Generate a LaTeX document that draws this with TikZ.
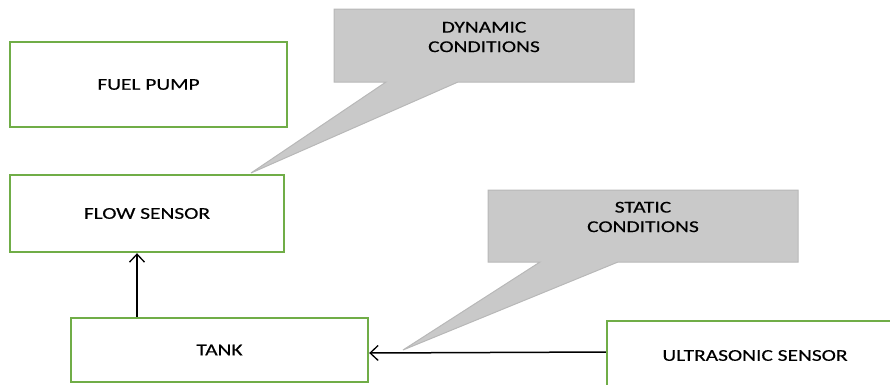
\documentclass[tikz,border=0pt]{standalone}
\usepackage{fontspec}
\setmainfont{Carlito}[FakeStretch=1.3,FakeBold=0.4]
\usetikzlibrary{arrows.meta}
\definecolor{boxgreen}{HTML}{70AD47}
\definecolor{callfill}{HTML}{C9C9C9}
\definecolor{calldraw}{HTML}{B8B8B8}
\tikzset{
  box/.style={draw=boxgreen, line width=2.4pt, fill=white, font=\fontsize{16.5}{19.5}\selectfont, text=black},
  arr/.style={draw=black, line width=1.5pt, -{Straight Barb[length=8pt,width=15pt,line width=1.3pt]}},
  callout/.style={fill=callfill, draw=calldraw, line width=1pt},
  calltext/.style={font=\fontsize{16.5}{19.5}\selectfont, align=center, text=black}
}
\begin{document}
\begin{tikzpicture}[x=1pt,y=-1pt]
\useasboundingbox (0,0) rectangle (890,384);
% callouts
\coordinate (dtip) at (251,173);
\draw[callout] (334,9) -- (634,9) -- (634,82) -- (458,82) -- (dtip) -- (386,82) -- (334,82) -- cycle;
\node[calltext] (dyn) at (484,37) {DYNAMIC\\CONDITIONS};
\coordinate (stip) at (403,350);
\draw[callout] (488,190) -- (798,190) -- (798,262) -- (618,262) -- (stip) -- (540,262) -- (488,262) -- cycle;
\node[calltext] (sta) at (643,217) {STATIC\\CONDITIONS};
% boxes
\node[box, minimum width=277pt, minimum height=85pt] (pump) at (148.5,84.5) {FUEL PUMP};
\node[box, minimum width=274pt, minimum height=77pt] (flow) at (147,213.5) {FLOW SENSOR};
\node[box, minimum width=297pt, minimum height=64pt] (tank) at (219.5,350) {TANK};
\node[box, minimum width=293pt, minimum height=69pt, inner sep=0pt] (ultra) at (753.5,355.5) {\hspace*{3pt}ULTRASONIC SENSOR};
% arrows
\draw[arr] ([xshift=-82.5pt]tank.north) -- ([xshift=-82.5pt]tank.north |- flow.south);
\draw[arr] ([yshift=3.5pt]ultra.west) -- ([yshift=-3pt]tank.east);
\end{tikzpicture}
\end{document}
